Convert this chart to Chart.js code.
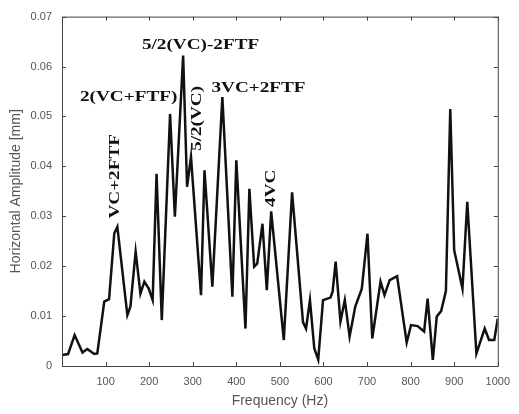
<!DOCTYPE html>
<html>
<head>
<meta charset="utf-8">
<script src="https://cdn.jsdelivr.net/npm/chart.js@4.4.1/dist/chart.umd.min.js"></script>
<style>
  html, body { margin: 0; padding: 0; background: #fff; }
  #wrap { width: 519px; height: 414px; }
</style>
</head>
<body>
<div id="wrap"><canvas id="spectrum" width="519" height="414"></canvas></div>
<script>
// Spectrum (frequency in Hz, amplitude in mm)
const freq = [0, 14, 29, 47, 58, 74, 81, 97, 108, 120, 127, 150, 157, 169, 180, 189, 199, 208,
    217, 229, 248, 259, 278, 287, 296, 319, 327, 345, 368, 391, 400, 421, 430, 441, 448, 460,
    470, 480, 509, 528, 553, 560, 569, 579, 588, 599, 616, 621, 628, 639, 649, 660, 673, 688,
    701, 712, 731, 740, 752, 769, 791, 801, 816, 831, 839, 851, 860, 870, 881, 891, 900, 919,
    930, 951, 970, 980, 992, 1000];
const amp = [0.0022, 0.0024, 0.0062, 0.0027, 0.0034, 0.0024, 0.0025, 0.0129, 0.0134, 0.0266,
    0.0279, 0.0102, 0.0119, 0.0229, 0.0145, 0.0169, 0.0155, 0.0132, 0.0385, 0.0092, 0.0505,
    0.0299, 0.0622, 0.0359, 0.0419, 0.0142, 0.0392, 0.0159, 0.0539, 0.0139, 0.0412, 0.0075,
    0.0355, 0.0199, 0.0205, 0.0285, 0.0152, 0.0310, 0.0052, 0.0348, 0.0088, 0.0075, 0.0132,
    0.0035, 0.0013, 0.0132, 0.0137, 0.0149, 0.0209, 0.0089, 0.0132, 0.0059, 0.0119, 0.0155,
    0.0265, 0.0055, 0.0169, 0.0142, 0.0172, 0.0180, 0.0047, 0.0082, 0.0080, 0.0069, 0.0135,
    0.0012, 0.0099, 0.0110, 0.0150, 0.0515, 0.0232, 0.0155, 0.0329, 0.0025, 0.0075, 0.0052,
    0.0052, 0.0095];

const xTicks = [100, 200, 300, 400, 500, 600, 700, 800, 900, 1000];
const yTicks = [0, 0.01, 0.02, 0.03, 0.04, 0.05, 0.06, 0.07];

// Peak labels (centre anchored in data units)
const noteText = ['VC+2FTF', '2(VC+FTF)', '5/2(VC)-2FTF', '5/2(VC)', '3VC+2FTF', '4VC'];
const noteFreq = [123, 153, 318, 309, 451, 481];
const noteAmp  = [0.038, 0.0538, 0.0642, 0.0496, 0.0556, 0.0356];
const noteVertical = [true, false, false, true, false, true];

const axisGray = '#444';
const textGray = '#555';
const sans = '"Liberation Sans", Arial, sans-serif';

// Box around the plot, MATLAB-style inward ticks, peak labels
const boxPlugin = {
    id: 'box',
    afterDraw(chart) {
        const {ctx, chartArea: a, scales: {x, y}} = chart;
        ctx.save();
        ctx.strokeStyle = axisGray;
        ctx.lineWidth = 1;
        ctx.strokeRect(a.left + 0.5, a.top + 0.5, a.right - a.left, a.bottom - a.top);
        const len = 4;
        ctx.beginPath();
        xTicks.forEach(v => {
            const px = Math.round(x.getPixelForValue(v)) + 0.5;
            ctx.moveTo(px, a.bottom); ctx.lineTo(px, a.bottom - len);
            ctx.moveTo(px, a.top); ctx.lineTo(px, a.top + len);
        });
        yTicks.forEach(v => {
            const py = Math.round(y.getPixelForValue(v)) + 0.5;
            ctx.moveTo(a.left, py); ctx.lineTo(a.left + len, py);
            ctx.moveTo(a.right, py); ctx.lineTo(a.right - len, py);
        });
        ctx.stroke();

        ctx.fillStyle = '#111';
        ctx.font = 'bold 15px "Liberation Serif", "Times New Roman", serif';
        ctx.textAlign = 'center';
        ctx.textBaseline = 'middle';
        noteText.forEach((t, i) => {
            ctx.save();
            ctx.translate(x.getPixelForValue(noteFreq[i]), y.getPixelForValue(noteAmp[i]));
            if (noteVertical[i]) ctx.rotate(-Math.PI / 2);
            ctx.scale(1.28, 1); // the source lettering is wide
            ctx.fillText(t, 0, 0);
            ctx.restore();
        });
        ctx.restore();
    }
};

new Chart(document.getElementById('spectrum'), {
    type: 'scatter',
    data: {
        datasets: [{
            data: freq.map((f, i) => ({x: f, y: amp[i]})),
            showLine: true,
            borderColor: '#111',
            borderWidth: 2.5,
            pointRadius: 0,
            tension: 0
        }]
    },
    options: {
        responsive: false,
        animation: false,
        layout: {padding: {left: 0, right: 14, top: 15, bottom: 0}},
        plugins: {legend: {display: false}, tooltip: {enabled: false}},
        scales: {
            x: {
                type: 'linear',
                min: 0,
                max: 1000,
                afterBuildTicks: s => { s.ticks = xTicks.map(v => ({value: v})); },
                afterFit: s => { s.height = 48; },
                grid: {display: false, drawTicks: false},
                border: {display: false},
                ticks: {
                    padding: 9,
                    color: textGray,
                    maxRotation: 0,
                    callback: v => String(v),
                    font: {family: sans, size: 11}
                },
                title: {
                    display: true,
                    text: 'Frequency (Hz)',
                    color: textGray,
                    padding: {top: 0, bottom: 4},
                    font: {family: sans, size: 14}
                }
            },
            y: {
                min: 0,
                max: 0.07,
                afterBuildTicks: s => { s.ticks = yTicks.map(v => ({value: v})); },
                afterFit: s => { s.width = 62; },
                grid: {display: false, drawTicks: false},
                border: {display: false},
                ticks: {
                    padding: 10,
                    color: textGray,
                    callback: v => String(+v.toFixed(2)),
                    font: {family: sans, size: 11}
                },
                title: {
                    display: true,
                    text: 'Horizontal Amplitude [mm]',
                    color: textGray,
                    padding: {top: 8, bottom: 0},
                    font: {family: sans, size: 14}
                }
            }
        }
    },
    plugins: [boxPlugin]
});
</script>
</body>
</html>
